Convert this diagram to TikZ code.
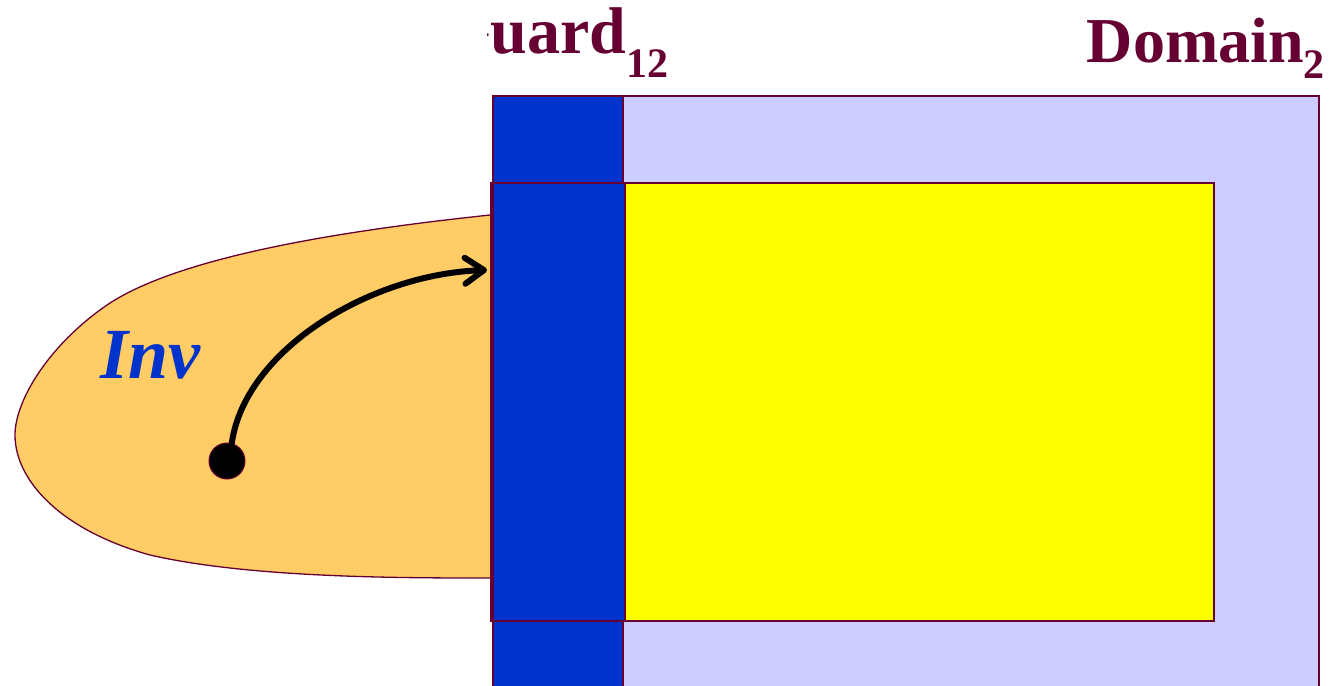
\documentclass[tikz,border=0pt]{standalone}
\usepackage{fontspec}
\setmainfont{Liberation Serif}
\usetikzlibrary{arrows.meta}
\definecolor{maroon}{HTML}{660033}
\definecolor{dblue}{HTML}{0033CC}
\definecolor{lav}{HTML}{CCCCFF}
\definecolor{yel}{HTML}{FFFF00}
\definecolor{org}{HTML}{FFCC66}
\tikzset{
  region/.style={draw=maroon, line width=1.5pt},
  title/.style={text=maroon, font=\bfseries\fontsize{64}{64}\selectfont, inner sep=0pt},
}
\begin{document}
\begin{tikzpicture}[x=1pt,y=-1pt]
\useasboundingbox (0,0) rectangle (1332,685);
% invariant blob
\fill[org] (490,215) .. controls (330,232) and (180,258) .. (110,303)
  .. controls (50,343) and (15,400) .. (15,435)
  .. controls (15,480) and (60,530) .. (150,555)
  .. controls (250,578) and (400,578) .. (490,578) -- cycle;
\draw[maroon, line width=1.3pt] (490,215) .. controls (330,232) and (180,258) .. (110,303)
  .. controls (50,343) and (15,400) .. (15,435)
  .. controls (15,480) and (60,530) .. (150,555)
  .. controls (250,578) and (400,578) .. (490,578);
% domain 2
\begin{scope}
\clip (0,0) rectangle (1332,685);
\node[region, fill=lav, minimum width=826pt, minimum height=620pt, anchor=north west, inner sep=0pt] (dom) at (492,95) {};
\node[region, fill=dblue, minimum width=130pt, minimum height=620pt, anchor=north west, inner sep=0pt] (guardstrip) at (492,95) {};
\end{scope}
\node[region, fill=yel, minimum width=723pt, minimum height=438pt, anchor=north west, inner sep=0pt] (inner) at (490,182) {};
\node[region, fill=dblue, minimum width=132pt, minimum height=438pt, anchor=north west, inner sep=0pt] (guardin) at (492,182) {};
% labels
\node[title, anchor=base east] (domlabel) at (1325,63) {Domain\raisebox{-0.24em}{\fontsize{42}{42}\selectfont 2}};
\begin{scope}
\clip (487,0) rectangle (1332,90);
\node[title, font=\bfseries\fontsize{66}{66}\selectfont, anchor=base west] (guardlabel) at (439,54) {Guard\raisebox{-0.36em}{\fontsize{42}{42}\selectfont 12}};
\end{scope}
\node[text=dblue, font=\bfseries\itshape\fontsize{72}{72}\selectfont, inner sep=0pt, anchor=base west] (inv) at (100,378) {Inv};
% state and transition
\node[circle, fill=black, draw=maroon, line width=1pt, minimum size=36pt, inner sep=0pt] (pt) at (227,461) {};
\coordinate (tgt) at (487,270);
\draw[line width=6pt, line cap=round, -{Straight Barb[length=19pt,width=26pt,round]}] (pt.75) .. controls (245,350) and (370,274) .. (tgt);
\end{tikzpicture}
\end{document}
